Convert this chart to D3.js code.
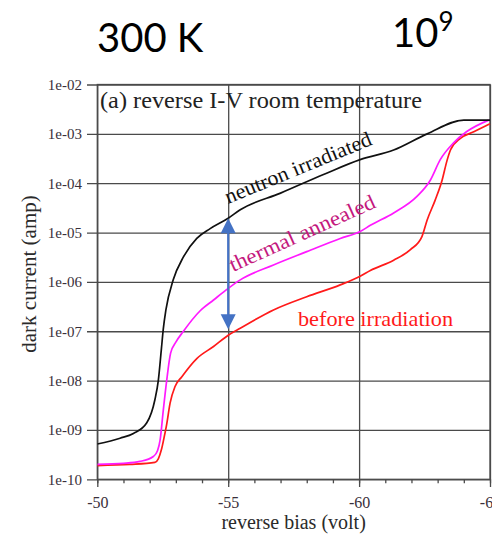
<!DOCTYPE html>
<html>
<head>
<meta charset="utf-8">
<script src="https://cdn.jsdelivr.net/npm/d3@7/dist/d3.min.js"></script>
<style>
  html, body { margin: 0; padding: 0; background: #fff; }
  svg { display: block; }
</style>
</head>
<body>
<svg id="chart" width="492" height="536"></svg>
<script>
// Axis ticks and labels
const voltTicks = [-50, -55, -60, -65];
const voltTickLabels = ["-50", "-55", "-60", "-65"];
const voltMinorTicks = [-50, -51, -52, -53, -54, -55, -56, -57, -58, -59, -60, -61, -62, -63, -64, -65];
const currentTicks = [1e-10, 1e-9, 1e-8, 1e-7, 1e-6, 1e-5, 1e-4, 1e-3, 1e-2];
const currentTickLabels = ["1e-10", "1e-09", "1e-08", "1e-07", "1e-06", "1e-05", "1e-04", "1e-03", "1e-02"];

// Neutron irradiated diode: reverse bias (V) and dark current (A)
const neutronV = [-50, -50.87, -51.38, -51.89, -52.2, -52.33, -52.45, -52.52, -52.62, -52.9, -53.29, -53.8, -54.31, -55.0, -55.46, -57.0, -58.64, -60.04, -61.32, -62.6, -64.0, -65.0];
const neutronI = [5.2e-10, 6.8e-10, 8.5e-10, 1.4e-9, 4.1e-9, 1.0e-8, 4.5e-8, 1.1e-7, 2.7e-7, 1.1e-6, 3.2e-6, 7.6e-6, 1.2e-5, 1.95e-5, 2.9e-5, 6.3e-5, 1.5e-4, 3.0e-4, 4.7e-4, 1.0e-3, 1.9e-3, 1.9e-3];

// Thermally annealed diode
const annealedV = [-50, -51.0, -51.63, -52.14, -52.3, -52.4, -52.52, -52.65, -52.8, -53.0, -53.29, -53.93, -54.44, -55.0, -55.46, -56.73, -58.0, -59.28, -60.04, -60.43, -61.32, -62.21, -62.72, -63.1, -63.6, -64.1, -64.95];
const annealedI = [2.0e-10, 2.1e-10, 2.3e-10, 2.9e-10, 3.8e-10, 6.3e-10, 2.5e-9, 1.0e-8, 3.6e-8, 6.0e-8, 1.0e-7, 2.6e-7, 4.3e-7, 7.4e-7, 1.1e-6, 2.2e-6, 4.1e-6, 7.6e-6, 1.05e-5, 1.4e-5, 2.5e-5, 5.4e-5, 1.15e-4, 3.0e-4, 6.5e-4, 1.1e-3, 1.9e-3];

// Diode before irradiation
const beforeV = [-50, -51.25, -52.2, -52.33, -52.45, -52.55, -52.65, -52.78, -52.97, -53.23, -53.8, -54.44, -55.0, -55.46, -56.73, -58.0, -59.28, -60.04, -60.43, -61.32, -61.96, -62.4, -62.6, -62.91, -63.17, -63.36, -63.49, -63.87, -64.38, -65.0];
const beforeI = [1.9e-10, 2.0e-10, 2.2e-10, 2.6e-10, 4.0e-10, 7.0e-10, 1.3e-9, 3.5e-9, 7.6e-9, 1.2e-8, 2.8e-8, 4.9e-8, 8.3e-8, 1.15e-7, 2.7e-7, 5.0e-7, 8.7e-7, 1.3e-6, 1.7e-6, 2.75e-6, 4.5e-6, 8.3e-6, 1.8e-5, 4.6e-5, 1.15e-4, 2.9e-4, 4.7e-4, 8.1e-4, 1.1e-3, 1.6e-3];

// Double-headed marker between the two curves at -55 V
const markerV = -55;
const markerTopI = 1.95e-5;
const markerBottomI = 1.1e-7;

const svg = d3.select("#chart");
const serif = "'Liberation Serif', 'Times New Roman', serif";

const plot = { left: 97.3, right: 490, top: 84.5, bottom: 479.3 };

const x = d3.scaleLinear().domain([-50, -65]).range([plot.left, plot.right]);
const y = d3.scaleLog().domain([1e-10, 1e-2]).range([plot.bottom, plot.top]);

svg.append("rect").attr("width", 492).attr("height", 536).attr("fill", "#fff");

// Header labels
svg.append("text")
  .attr("x", 97).attr("y", 52)
  .attr("font-family", "Lato, 'Open Sans', sans-serif")
  .attr("font-size", 40)
  .attr("fill", "#000")
  .text("300 K");

const fluence = svg.append("text")
  .attr("x", 392).attr("y", 47)
  .attr("font-family", "Lato, 'Open Sans', sans-serif")
  .attr("font-size", 40)
  .attr("fill", "#000");
fluence.append("tspan").text("10");
fluence.append("tspan").attr("font-size", 26).attr("dy", -16).text("9");

const gridColor = "#4a4a4a";

// Y axis: decade gridlines that run a little past the left edge
const leftEdge = 87;
const yAxis = d3.axisLeft(y)
  .tickValues(currentTicks)
  .tickFormat((d, i) => currentTickLabels[i])
  .tickSize(-(plot.right - leftEdge))
  .tickPadding(5);
const gy = svg.append("g").attr("transform", `translate(${leftEdge},0)`).call(yAxis);
gy.select(".domain").remove();
gy.selectAll(".tick line").attr("stroke", gridColor).attr("stroke-width", 1.3);
gy.selectAll(".tick text")
  .attr("font-family", serif).attr("font-size", 15).attr("fill", "#3a2f3a");

// X axis: major gridlines extending below the frame
const bottomEdge = 487;
const xAxis = d3.axisBottom(x)
  .tickValues(voltTicks)
  .tickFormat((d, i) => voltTickLabels[i])
  .tickSize(-(bottomEdge - plot.top))
  .tickPadding(10);
const gx = svg.append("g").attr("transform", `translate(0,${bottomEdge})`).call(xAxis);
gx.select(".domain").remove();
gx.selectAll(".tick line").attr("stroke", gridColor).attr("stroke-width", 1.3);
gx.selectAll(".tick text")
  .attr("font-family", serif).attr("font-size", 16).attr("fill", "#3a2f3a");

// Minor ticks every volt under the frame
const xMinor = d3.axisBottom(x).tickValues(voltMinorTicks).tickSize(4).tickFormat("");
const gm = svg.append("g").attr("transform", `translate(0,${plot.bottom})`).call(xMinor);
gm.select(".domain").remove();
gm.selectAll(".tick line").attr("stroke", gridColor).attr("stroke-width", 1.3);

// Frame
svg.append("rect")
  .attr("x", plot.left).attr("y", plot.top)
  .attr("width", plot.right - plot.left).attr("height", plot.bottom - plot.top)
  .attr("fill", "none").attr("stroke", gridColor).attr("stroke-width", 1.3);

// Axis titles
svg.append("text")
  .attr("x", (plot.left + plot.right) / 2).attr("y", 529)
  .attr("text-anchor", "middle")
  .attr("font-family", serif).attr("font-size", 20).attr("fill", "#2a2a2a")
  .text("reverse bias (volt)");

svg.append("text")
  .attr("transform", "translate(36,274) rotate(-90)")
  .attr("text-anchor", "middle")
  .attr("font-family", serif).attr("font-size", 21).attr("fill", "#2a2a2a")
  .text("dark current (amp)");

// Panel title
svg.append("text")
  .attr("x", 100).attr("y", 107.5)
  .attr("font-family", serif).attr("font-size", 23).attr("fill", "#222")
  .attr("textLength", 322).attr("lengthAdjust", "spacingAndGlyphs")
  .text("(a) reverse I-V room temperature");

// Curves
svg.append("clipPath").attr("id", "plot-clip")
  .append("rect")
  .attr("x", plot.left).attr("y", plot.top - 2)
  .attr("width", plot.right - plot.left + 2).attr("height", plot.bottom - plot.top + 2);

const line = d3.line()
  .x(d => x(d[0]))
  .y(d => y(d[1]))
  .curve(d3.curveMonotoneX);

const series = [
  { v: beforeV, i: beforeI, color: "#ff1a1a" },
  { v: annealedV, i: annealedI, color: "#ff1aff" },
  { v: neutronV, i: neutronI, color: "#111111" }
];

const curves = svg.append("g").attr("clip-path", "url(#plot-clip)");
series.forEach(s => {
  curves.append("path")
    .datum(d3.zip(s.v, s.i))
    .attr("d", line)
    .attr("fill", "none")
    .attr("stroke", s.color)
    .attr("stroke-width", 1.7)
    .attr("stroke-linejoin", "round");
});

// Curve labels
function curveLabel(text, px, py, angle, length, color) {
  svg.append("text")
    .attr("transform", `translate(${px},${py}) rotate(${angle})`)
    .attr("font-family", serif).attr("font-size", 21)
    .attr("fill", color)
    .attr("textLength", length).attr("lengthAdjust", "spacingAndGlyphs")
    .text(text);
}
curveLabel("neutron irradiated", 228, 204, -22.3, 157, "#111");
curveLabel("thermal annealed", 233, 272, -24.3, 158, "#c4187e");
curveLabel("before irradiation", 298, 326, 0, 155, "#ff1a1a");

// Blue double-headed marker
const mx = x(markerV);
const yTop = y(markerTopI);
const yBot = y(markerBottomI);
const head = 15, halfW = 7.5;
const marker = svg.append("g").attr("fill", "#4472c4").attr("stroke", "none");
marker.append("line")
  .attr("x1", mx).attr("x2", mx)
  .attr("y1", yTop + head - 1).attr("y2", yBot - head + 1)
  .attr("stroke", "#4472c4").attr("stroke-width", 2.2);
marker.append("path")
  .attr("d", `M${mx},${yTop} L${mx - halfW},${yTop + head} L${mx + halfW},${yTop + head} Z`);
marker.append("path")
  .attr("d", `M${mx},${yBot} L${mx - halfW},${yBot - head} L${mx + halfW},${yBot - head} Z`);
</script>
</body>
</html>
